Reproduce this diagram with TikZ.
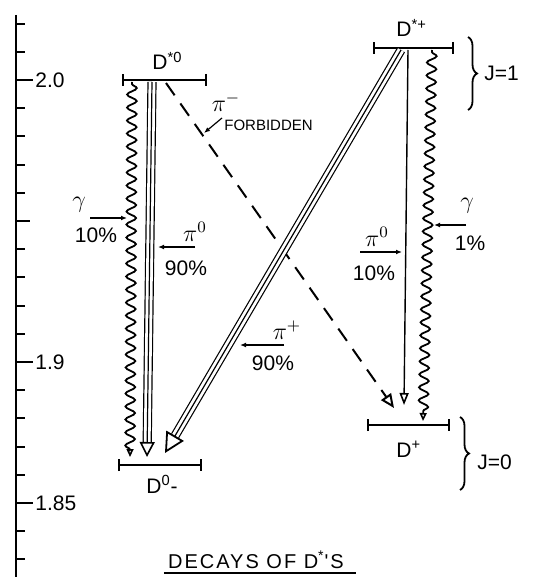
\documentclass[tikz,border=0pt]{standalone}
\usepackage{fontspec}
\setmainfont{Liberation Sans}
\newfontfamily\capfont[LetterSpace=10]{Liberation Sans}
\usetikzlibrary{arrows.meta,decorations.pathmorphing,decorations.pathreplacing}

\begin{document}
\begin{tikzpicture}[
  x=0.5pt,
  y=-0.5pt,
  >=Latex,
  level/.style={line width=1.2pt, {Bar[width=6pt]}-{Bar[width=6pt]}},
  lbl/.style={inner sep=0pt, font=\fontsize{10.5}{12}\selectfont},
  mlbl/.style={inner sep=0pt, font=\fontsize{12}{14}\selectfont},
  small/.style={inner sep=0pt, font=\fontsize{7.5}{9}\selectfont},
  ptr/.style={line width=0.6pt, -{Latex[length=3pt,width=2.4pt]}},
  wavy/.style={line width=0.9pt, decorate, decoration={snake, amplitude=2.4pt, segment length=6.5pt, pre length=1pt, post length=3.5pt}, -{Triangle[open, length=4pt, width=3.5pt, line width=0.8pt]}},
  triple/.style={line width=0.6pt, double distance=3.4pt},
  core/.style={line width=0.6pt},
  forb/.style={line width=1pt, dash pattern=on 7.5pt off 5pt, -{Triangle[open, length=7pt, width=6pt, line width=1pt]}},
  brace/.style={line width=0.9pt, decorate, decoration={brace, amplitude=4.5pt}}
]
  \useasboundingbox (0,0) rectangle (532,577);

  % mass scale
  \draw[line width=1.2pt] (16,15) -- (16,577);
  \foreach \k in {-2,...,17}
    \draw[line width=1pt] (16,{80+28.2*\k}) -- (25,{80+28.2*\k});
  \draw[line width=1pt] (16,80) -- (33,80);
  \draw[line width=1pt] (16,221) -- (30,221);
  \draw[line width=1pt] (16,362) -- (33,362);
  \draw[line width=1pt] (16,503) -- (33,503);
  \node[lbl, anchor=west] (ax20) at (35,80) {2.0};
  \node[lbl, anchor=west] (ax19) at (35,362) {1.9};
  \node[lbl, anchor=west] (ax185) at (35,503) {1.85};

  % levels
  \coordinate (dsz-l) at (122,80);
  \coordinate (dsz-r) at (207,80);
  \coordinate (dsp-l) at (373,48);
  \coordinate (dsp-r) at (454,48);
  \coordinate (dz-l) at (118,465);
  \coordinate (dz-r) at (202,465);
  \coordinate (dp-l) at (367,425);
  \coordinate (dp-r) at (450,425);
  \draw[level] (dsz-l) -- (dsz-r);
  \draw[level] (dsp-l) -- (dsp-r);
  \draw[level] (dz-l) -- (dz-r);
  \draw[level] (dp-l) -- (dp-r);
  \node[lbl, anchor=base west] (dszlab) at (152,70) {D\textsuperscript{*0}};
  \node[lbl, anchor=base west] (dsplab) at (396,37) {D\textsuperscript{*+}};
  \node[lbl, anchor=base west] (dzlab) at (146,493) {D\textsuperscript{0}-};
  \node[lbl, anchor=base west] (dplab) at (396,457) {D\textsuperscript{+}};

  % spin braces
  \coordinate (b1-t) at (468,37);
  \coordinate (b1-b) at (468,110);
  \coordinate (b0-t) at (460,417);
  \coordinate (b0-b) at (460,490);
  \draw[brace] (b1-t) -- (b1-b);
  \draw[brace] (b0-t) -- (b0-b);
  \node[lbl, anchor=west] (j1) at (484,73) {J=1};
  \node[lbl, anchor=west] (j0) at (477,462) {J=0};

  % D*0 decays
  \coordinate (g1a) at (132,82);
  \coordinate (g1b) at (130,457);
  \coordinate (p1a) at (152,82);
  \coordinate (p1b) at (147,457);
  \coordinate (f1a) at (166,83);
  \coordinate (f1b) at (394,408);
  \draw[wavy] (g1a) -- (g1b);
  \draw[forb] (f1a) -- (f1b);
  \draw[triple, shorten >=7.5pt] (p1a) -- (p1b);
  \draw[core, -{Triangle[open, length=7.5pt, width=7.5pt, line width=0.8pt]}] (p1a) -- (p1b);

  % D*+ decays
  \coordinate (p2a) at (401,50);
  \coordinate (p2b) at (165,453);
  \coordinate (p3a) at (408,50);
  \coordinate (p3b) at (404,405);
  \coordinate (g2a) at (432,50);
  \coordinate (g2b) at (423,421);
  \draw[triple, shorten >=10pt] (p2a) -- (p2b);
  \draw[core, -{Triangle[open, length=10pt, width=10pt, line width=0.9pt]}] (p2a) -- (p2b);
  \draw[line width=0.7pt, -{Triangle[open, length=6pt, width=4.5pt, line width=0.8pt]}] (p3a) -- (p3b);
  \draw[wavy] (g2a) -- (g2b);

  % branching labels
  \node[mlbl] (pimlab) at (226,102) {$\pi^-$};
  \node[small, anchor=west] (forblab) at (224,125) {FORBIDDEN};
  \coordinate (fp-s) at (222,118);
  \coordinate (fp-e) at (204,133);
  \draw[ptr] (fp-s) -- (fp-e);

  \node[mlbl] (g1sym) at (79,205) {$\gamma$};
  \node[lbl] (g1pc) at (96,235) {10\%};
  \coordinate (g1p-s) at (90,218);
  \coordinate (g1p-e) at (127,218);
  \draw[ptr] (g1p-s) -- (g1p-e);

  \node[mlbl] (p1sym) at (195,232) {$\pi^0$};
  \node[lbl] (p1pc) at (186,268) {90\%};
  \coordinate (p1p-s) at (195,247);
  \coordinate (p1p-e) at (158,247);
  \draw[ptr] (p1p-s) -- (p1p-e);

  \node[mlbl] (p2sym) at (287,330) {$\pi^+$};
  \node[lbl] (p2pc) at (273,363) {90\%};
  \coordinate (p2p-s) at (284,345);
  \coordinate (p2p-e) at (240,345);
  \draw[ptr] (p2p-s) -- (p2p-e);

  \node[mlbl] (p3sym) at (377,237) {$\pi^0$};
  \node[lbl] (p3pc) at (374,273) {10\%};
  \coordinate (p3p-s) at (360,252);
  \coordinate (p3p-e) at (402,252);
  \draw[ptr] (p3p-s) -- (p3p-e);

  \node[mlbl] (g2sym) at (467,206) {$\gamma$};
  \node[lbl] (g2pc) at (470,243) {1\%};
  \coordinate (g2p-s) at (466,225);
  \coordinate (g2p-e) at (434,225);
  \draw[ptr] (g2p-s) -- (g2p-e);

  % caption
  \node[anchor=base, inner sep=0pt, font=\capfont\fontsize{10}{12}\selectfont] (title) at (256,568) {DECAYS OF D\textsuperscript{*}'S};
  \draw[line width=1pt] ([xshift=-2pt,yshift=-2.5pt]title.base west) -- ([xshift=6pt,yshift=-2.5pt]title.base east);
\end{tikzpicture}
\end{document}
